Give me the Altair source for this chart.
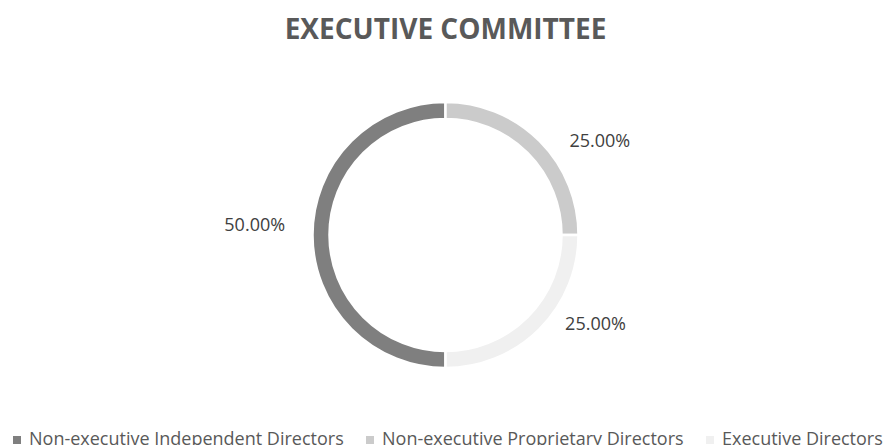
import math
import altair as alt
import pandas as pd

categories = [
    "Non-executive Independent Directors",
    "Non-executive Proprietary Directors",
    "Executive Directors",
]
values = [50, 25, 25]
colors = ["#7f7f7f", "#cbcbcb", "#f0f0f0"]

df = pd.DataFrame({"category": categories, "value": values, "k": list(range(len(categories)))})

FONT = "Open Sans"
theta_scale = alt.Scale(domain=[0, sum(values)], range=[math.pi, 3 * math.pi])

base = alt.Chart(df)

arcs = base.mark_arc(innerRadius=116, outerRadius=133, stroke="white", strokeWidth=2.5).encode(
    theta=alt.Theta("value:Q", stack=True, scale=theta_scale),
    color=alt.Color(
        "category:N",
        scale=alt.Scale(domain=categories, range=colors),
        legend=alt.Legend(
            title=None,
            orient="bottom",
            direction="horizontal",
            symbolType="square",
            symbolSize=64,
            symbolStrokeWidth=0,
            labelFont=FONT,
            labelFontSize=18,
            labelColor="#595959",
            labelLimit=0,
            labelOffset=3,
            columnPadding=17,
            symbolOffset=0,
            padding=0,
            offset=10,
        ),
    ),
    order=alt.Order("k:Q"),
)


def label(cat, radius, offset_deg):
    return (
        base.transform_window(cum="sum(value)", sort=[alt.SortField("k")], frame=[None, 0])
        .transform_joinaggregate(total="sum(value)")
        .transform_calculate(mid="datum.cum - datum.value / 2", pct="datum.value / datum.total")
        .transform_filter(alt.datum.category == cat)
        .mark_text(
            radius=radius,
            thetaOffset=math.radians(offset_deg),
            font=FONT,
            fontSize=18,
            color="#404040",
        )
        .encode(
            theta=alt.Theta("mid:Q", stack=False, scale=theta_scale),
            text=alt.Text("pct:Q", format=".2%"),
        )
    )


labels = [
    label(categories[0], 191, 2.7),
    label(categories[1], 180, 14),
    label(categories[2], 175, -14),
]

chart = (
    alt.layer(arcs, *labels)
    .properties(
        width=875,
        height=372,
        padding={"left": 0, "right": 0, "top": 9, "bottom": 0},
        title=alt.Title(
            "EXECUTIVE COMMITTEE",
            font=FONT,
            fontSize=28,
            fontWeight="bold",
            color="#595959",
            anchor="middle",
            offset=4,
        ),
    )
    .configure_view(stroke=None)
)

chart.save("out.html", embed_options={"renderer": "svg", "actions": False})
